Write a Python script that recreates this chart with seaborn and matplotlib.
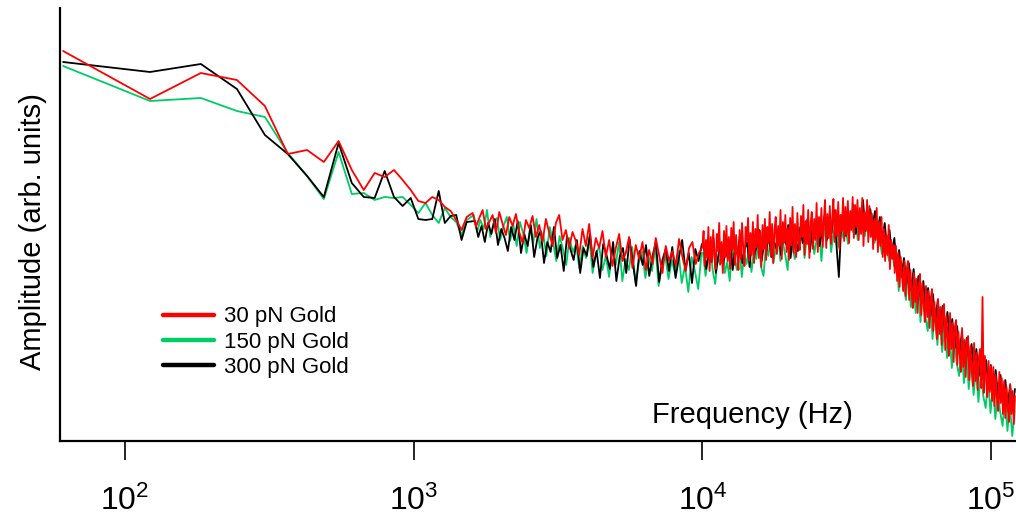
import numpy as np
import pandas as pd
import matplotlib
matplotlib.use("Agg")
import matplotlib.pyplot as plt
import seaborn as sns
from matplotlib.lines import Line2D
from matplotlib.ticker import FixedLocator, NullLocator, FixedFormatter

# ---------------- data ----------------
BIN_HZ = 61.035                      # FFT bin spacing
LOW_BINS = np.arange(1, 26)          # first 25 bins drawn individually
FREQ_LOW = BIN_HZ * LOW_BINS
# sampled frequencies for the noisy part of each trace
FREQ_MID = {"30 pN Gold": np.geomspace(1600, 10000, 70),
            "150 pN Gold": np.geomspace(1615, 9930, 70),
            "300 pN Gold": np.geomspace(1630, 9960, 70)}
FREQ_HIGH = {"30 pN Gold": np.geomspace(10000, 121000, 261)[1:],
             "150 pN Gold": np.geomspace(10060, 120700, 130),
             "300 pN Gold": np.geomspace(10110, 121000, 130)}

SERIES = ["30 pN Gold", "150 pN Gold", "300 pN Gold"]
COLORS = {"30 pN Gold": "#FF0000", "150 pN Gold": "#00CC66", "300 pN Gold": "#000000"}

red_low = [390, 342, 368, 361, 335, 287, 291, 279, 300, 271, 251, 268, 264, 271, 261,
           251, 240, 238, 244, 241, 234, 230, 221, 211, 224]
red_mid = [228, 214, 223, 231, 212, 219, 226, 208, 229, 217,
           206, 224, 215, 227, 209, 198, 221, 213, 225, 204,
           216, 199, 222, 208, 195, 218, 226, 201, 211, 193,
           209, 200, 186, 212, 195, 217, 183, 203, 193, 210,
           184, 201, 175, 193, 207, 180, 188, 204, 173, 196,
           182, 199, 171, 191, 177, 203, 186, 168, 195, 180,
           190, 175, 202, 184, 170, 193, 199, 177, 188, 194]
red_high = [210, 175, 201, 183, 214, 170, 204, 179, 211, 186,
            172, 207, 190, 218, 177, 199, 168, 210, 184, 215,
            180, 204, 172, 213, 191, 219, 176, 206, 187, 171,
            211, 182, 218, 193, 175, 214, 199, 223, 180, 208,
            186, 219, 178, 212, 194, 226, 183, 210, 174, 216,
            192, 222, 181, 214, 198, 229, 185, 217, 178, 211,
            224, 187, 215, 195, 231, 182, 219, 199, 226, 189,
            213, 181, 223, 196, 234, 188, 217, 184, 228, 200,
            191, 225, 204, 236, 186, 220, 197, 231, 183, 218,
            229, 192, 222, 201, 238, 189, 224, 205, 233, 194,
            219, 241, 193, 227, 203, 235, 197, 223, 242, 199,
            231, 205, 239, 192, 226, 210, 243, 200, 234, 206,
            240, 198, 230, 211, 244, 203, 236, 214, 241, 201,
            233, 207, 243, 195, 229, 210, 241, 199, 235, 204,
            227, 192, 221, 201, 233, 189, 219, 195, 224, 184,
            212, 180, 206, 186, 216, 172, 201, 182, 196, 168,
            195, 160, 188, 154, 184, 166, 150, 180, 145, 172,
            180, 141, 171, 150, 133, 168, 139, 162, 128, 155,
            167, 126, 158, 137, 119, 155, 124, 150, 113, 143,
            152, 110, 139, 119, 102, 142, 107, 134, 96, 130,
            137, 91, 125, 103, 85, 128, 92, 118, 79, 114,
            121, 76, 109, 87, 69, 113, 74, 101, 64, 99,
            105, 61, 95, 72, 55, 98, 60, 88, 51, 84,
            92, 53, 144, 48, 85, 60, 44, 80, 49, 75,
            40, 74, 35, 66, 43, 30, 69, 38, 63, 27,
            60, 23, 54, 32, 19, 57, 27, 50, 17, 45]

green_low = [375, 340, 343, 330, 324, 288, 265, 242, 289, 247, 248, 241, 244, 243, 244,
             236, 228, 238, 226, 218, 233, 224, 219, 206, 221]
green_mid = [226, 209, 221, 212, 231, 204, 218, 223, 201, 215,
             224, 200, 216, 195, 219, 207, 188, 212, 198, 222,
             193, 208, 185, 214, 199, 180, 205, 192, 176, 203,
             189, 197, 172, 195, 183, 204, 168, 188, 194, 171,
             185, 164, 192, 176, 199, 160, 182, 171, 194, 158,
             178, 189, 163, 184, 170, 195, 155, 176, 186, 162,
             181, 167, 190, 158, 175, 149, 184, 170, 152, 188]
green_high = [188, 165, 181, 193, 170, 157, 184, 176, 196, 168,
              179, 160, 191, 183, 171, 198, 164, 187, 177, 194,
              169, 190, 182, 201, 174, 165, 196, 185, 203, 178,
              191, 208, 180, 199, 186, 171, 211, 193, 182, 204,
              196, 214, 183, 206, 192, 219, 187, 201, 210, 180,
              213, 199, 222, 189, 208, 217, 194, 226, 203, 212,
              197, 221, 209, 230, 201, 216, 225, 205, 233, 211,
              220, 198, 214, 204, 187, 209, 193, 180, 199, 175,
              188, 150, 179, 156, 141, 174, 134, 163, 128, 157,
              119, 150, 125, 110, 144, 102, 133, 96, 127, 89,
              119, 83, 111, 73, 104, 78, 65, 98, 58, 89,
              52, 82, 46, 74, 39, 69, 45, 33, 63, 28,
              55, 22, 48, 29, 15, 45, 10, 37, 5, 30]

black_low = [379, 369, 377, 352, 306, 287, 265, 244, 298, 258, 244, 243, 270, 244, 235,
             243, 222, 221, 222, 250, 218, 225, 226, 201, 219]
black_mid = [220, 204, 215, 199, 218, 207, 222, 196, 212, 203,
             190, 214, 201, 220, 188, 207, 195, 216, 184, 203,
             210, 178, 199, 189, 214, 183, 196, 170, 205, 192,
             181, 201, 168, 193, 185, 207, 174, 190, 163, 197,
             186, 172, 199, 160, 184, 193, 168, 202, 178, 155,
             190, 176, 196, 165, 185, 199, 159, 181, 192, 170,
             194, 163, 183, 201, 171, 188, 158, 192, 180, 197]
black_high = [196, 172, 188, 179, 203, 168, 185, 197, 176, 190,
              183, 201, 171, 194, 187, 206, 178, 192, 199, 174,
              203, 186, 195, 211, 180, 198, 190, 207, 184, 200,
              193, 212, 186, 204, 197, 216, 183, 209, 201, 190,
              214, 198, 207, 222, 189, 211, 203, 219, 195, 208,
              225, 201, 214, 208, 231, 196, 164, 217, 229, 205,
              222, 213, 236, 207, 228, 219, 241, 210, 225, 232,
              216, 230, 208, 224, 200, 218, 193, 211, 186, 203,
              174, 191, 164, 183, 157, 178, 151, 172, 144, 165,
              139, 160, 133, 153, 125, 147, 119, 141, 112, 135,
              106, 129, 99, 122, 93, 115, 87, 109, 81, 103,
              76, 97, 70, 92, 65, 86, 60, 81, 55, 76,
              51, 71, 45, 66, 41, 61, 36, 56, 32, 52]

X_TICKS = [1e2, 1e3, 1e4, 1e5]
X_TICK_LABELS = [r"$10^{2}$", r"$10^{3}$", r"$10^{4}$", r"$10^{5}$"]

# ---------------- build table ----------------
frames = []
for name, parts in [("30 pN Gold", (red_low, red_mid, red_high)),
                    ("150 pN Gold", (green_low, green_mid, green_high)),
                    ("300 pN Gold", (black_low, black_mid, black_high))]:
    freq = np.concatenate([FREQ_LOW, FREQ_MID[name], FREQ_HIGH[name]])
    amp = np.concatenate([np.asarray(p, dtype=float) for p in parts])
    frames.append(pd.DataFrame({"freq": freq, "amp": amp, "series": name}))
df = pd.concat(frames, ignore_index=True)

# ---------------- style ----------------
sns.set_theme(style="white")
plt.rcParams["font.family"] = ["Liberation Sans", "DejaVu Sans"]
plt.rcParams["mathtext.fontset"] = "custom"
plt.rcParams["mathtext.rm"] = "Liberation Sans"
plt.rcParams["mathtext.it"] = "Liberation Sans:italic"
plt.rcParams["mathtext.bf"] = "Liberation Sans:bold"
plt.rcParams["text.color"] = "black"
plt.rcParams["xtick.color"] = "black"
plt.rcParams["xtick.labelcolor"] = "black"

fig = plt.figure(figsize=(10.16, 5.23), dpi=100)
ax = fig.add_axes([0.0594, 0.1568, 0.9406, 0.8279])
ax.set_xscale("log")

for name in ["150 pN Gold", "300 pN Gold", "30 pN Gold"]:
    sub = df[df["series"] == name]
    sns.lineplot(data=sub, x="freq", y="amp", ax=ax, color=COLORS[name],
                 linewidth=1.3, estimator=None, sort=False, legend=False)

ax.set_xlim(59.7, 122000)
ax.set_ylim(0, 433)

for s in ["top", "right"]:
    ax.spines[s].set_visible(False)
for s in ["left", "bottom"]:
    ax.spines[s].set_visible(True)
    ax.spines[s].set_color("black")
    ax.spines[s].set_linewidth(1.6)

ax.xaxis.set_major_locator(FixedLocator(X_TICKS))
ax.xaxis.set_major_formatter(FixedFormatter(X_TICK_LABELS))
ax.xaxis.set_minor_locator(NullLocator())
ax.tick_params(axis="x", which="major", direction="out", length=14, width=1.2,
               color="black", labelcolor="black", labelsize=23, pad=18, bottom=True)
ax.set_yticks([])
ax.set_xlabel("")
ax.set_ylabel("")

ax.text(0.7238, 0.0416, "Frequency (Hz)", transform=ax.transAxes,
        ha="center", va="baseline", fontsize=21, color="black")
fig.text(33 / 1016, 1 - 231.5 / 523, "Amplitude (arb. units)", rotation=90,
         ha="center", va="center", fontsize=21, color="black")

handles = [Line2D([0], [0], color=COLORS[n], lw=3.2) for n in SERIES]
leg = ax.legend(handles, SERIES, loc="upper left", bbox_to_anchor=(0.1075, 0.311),
                frameon=False, fontsize=16, handlelength=2.3, handletextpad=0.45,
                labelspacing=0.2, borderpad=0, borderaxespad=0)
for t in leg.get_texts():
    t.set_color("black")

fig.savefig("out.png", dpi=100)
